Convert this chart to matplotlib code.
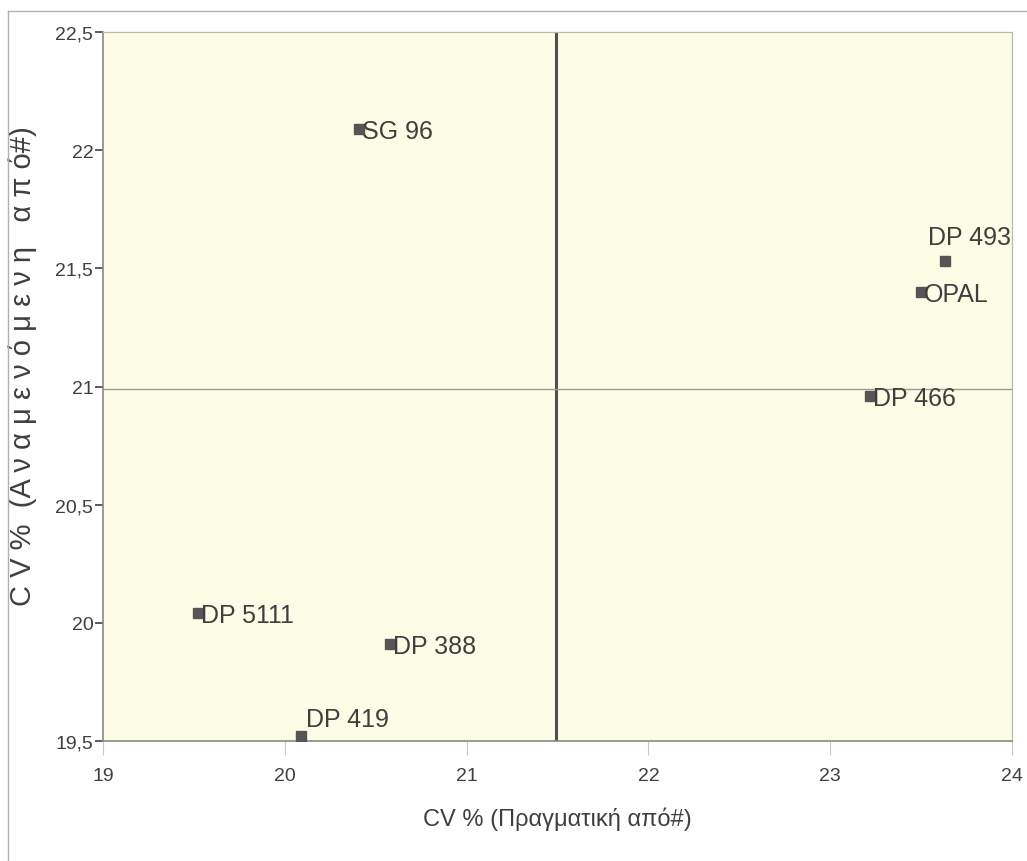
import matplotlib
matplotlib.use("Agg")
import matplotlib.pyplot as plt
from matplotlib.lines import Line2D
from matplotlib.ticker import FuncFormatter

# data
NAMES = ["SG 96", "DP 493", "OPAL", "DP 466", "DP 5111", "DP 388", "DP 419"]
CV_REAL = [20.41, 23.63, 23.50, 23.22, 19.52, 20.58, 20.09]
CV_EXPECTED = [22.09, 21.53, 21.40, 20.96, 20.04, 19.91, 19.52]
REF_X = 21.49
REF_Y = 20.99

X_TICKS = [19, 20, 21, 22, 23, 24]
Y_TICKS = [19.5, 20, 20.5, 21, 21.5, 22, 22.5]

# label offsets in pixels (dx, dy, va)
OFFSETS = {
    "DP 493": (-17, 12, "bottom"),
    "DP 419": (5, 5, "bottom"),
}

FONT = ["Liberation Sans", "DejaVu Sans"]
TEXT_COL = "#3f3f3f"

plt.rcParams["font.family"] = FONT

fig = plt.figure(figsize=(10.27, 8.62), dpi=100)
ax = fig.add_axes([0.1003, 0.1392, 0.8851, 0.8225])
ax.set_facecolor("#fdfde6")

ax.axvline(REF_X, color="#505050", linewidth=2.2, zorder=2)
ax.axhline(REF_Y, color="#9a9a9a", linewidth=1.0, zorder=2)

ax.plot(CV_REAL, CV_EXPECTED, "s", color="#555555", markersize=7,
        linestyle="none", zorder=3)

for name, x, y in zip(NAMES, CV_REAL, CV_EXPECTED):
    dx, dy, va = OFFSETS.get(name, (3, -2, "center"))
    ax.annotate(name, (x, y), xytext=(dx, dy), textcoords="offset pixels",
                ha="left", va=va, fontsize=18, color=TEXT_COL, zorder=4)

ax.set_xlim(19, 24)
ax.set_ylim(19.5, 22.5)
ax.set_xticks(X_TICKS)
ax.set_yticks(Y_TICKS)

fmt = FuncFormatter(lambda v, p: f"{v:g}".replace(".", ","))
ax.xaxis.set_major_formatter(fmt)
ax.yaxis.set_major_formatter(fmt)

ax.tick_params(axis="y", direction="out", length=6, width=1.2,
               color="#404040", labelsize=14, labelcolor=TEXT_COL, pad=1)
ax.tick_params(axis="x", direction="out", length=10, width=0.8,
               color="#c8c8c8", labelsize=14, labelcolor=TEXT_COL, pad=9)

for side in ["left", "bottom"]:
    ax.spines[side].set_color("#8a8a80")
    ax.spines[side].set_linewidth(1.2)
for side in ["top", "right"]:
    ax.spines[side].set_color("#b8b8b0")
    ax.spines[side].set_linewidth(0.9)

ax.set_xlabel("CV % (Πραγματική από#)", fontsize=17, color=TEXT_COL,
              labelpad=16)
ax.set_ylabel("C V %  (Α ν α μ ε ν ό μ ε ν η   α π ό#)", fontsize=21,
              color=TEXT_COL)
ax.yaxis.set_label_coords(-0.073, 0.53)

# outer frame of the original figure
fig.add_artist(Line2D([8 / 1027, 8 / 1027], [0, 1 - 12 / 862],
                      transform=fig.transFigure, color="#b0b0b0", linewidth=1))
fig.add_artist(Line2D([8 / 1027, 1], [1 - 12 / 862, 1 - 12 / 862],
                      transform=fig.transFigure, color="#b0b0b0", linewidth=1))

fig.savefig("out.png", dpi=100)
plt.close(fig)
